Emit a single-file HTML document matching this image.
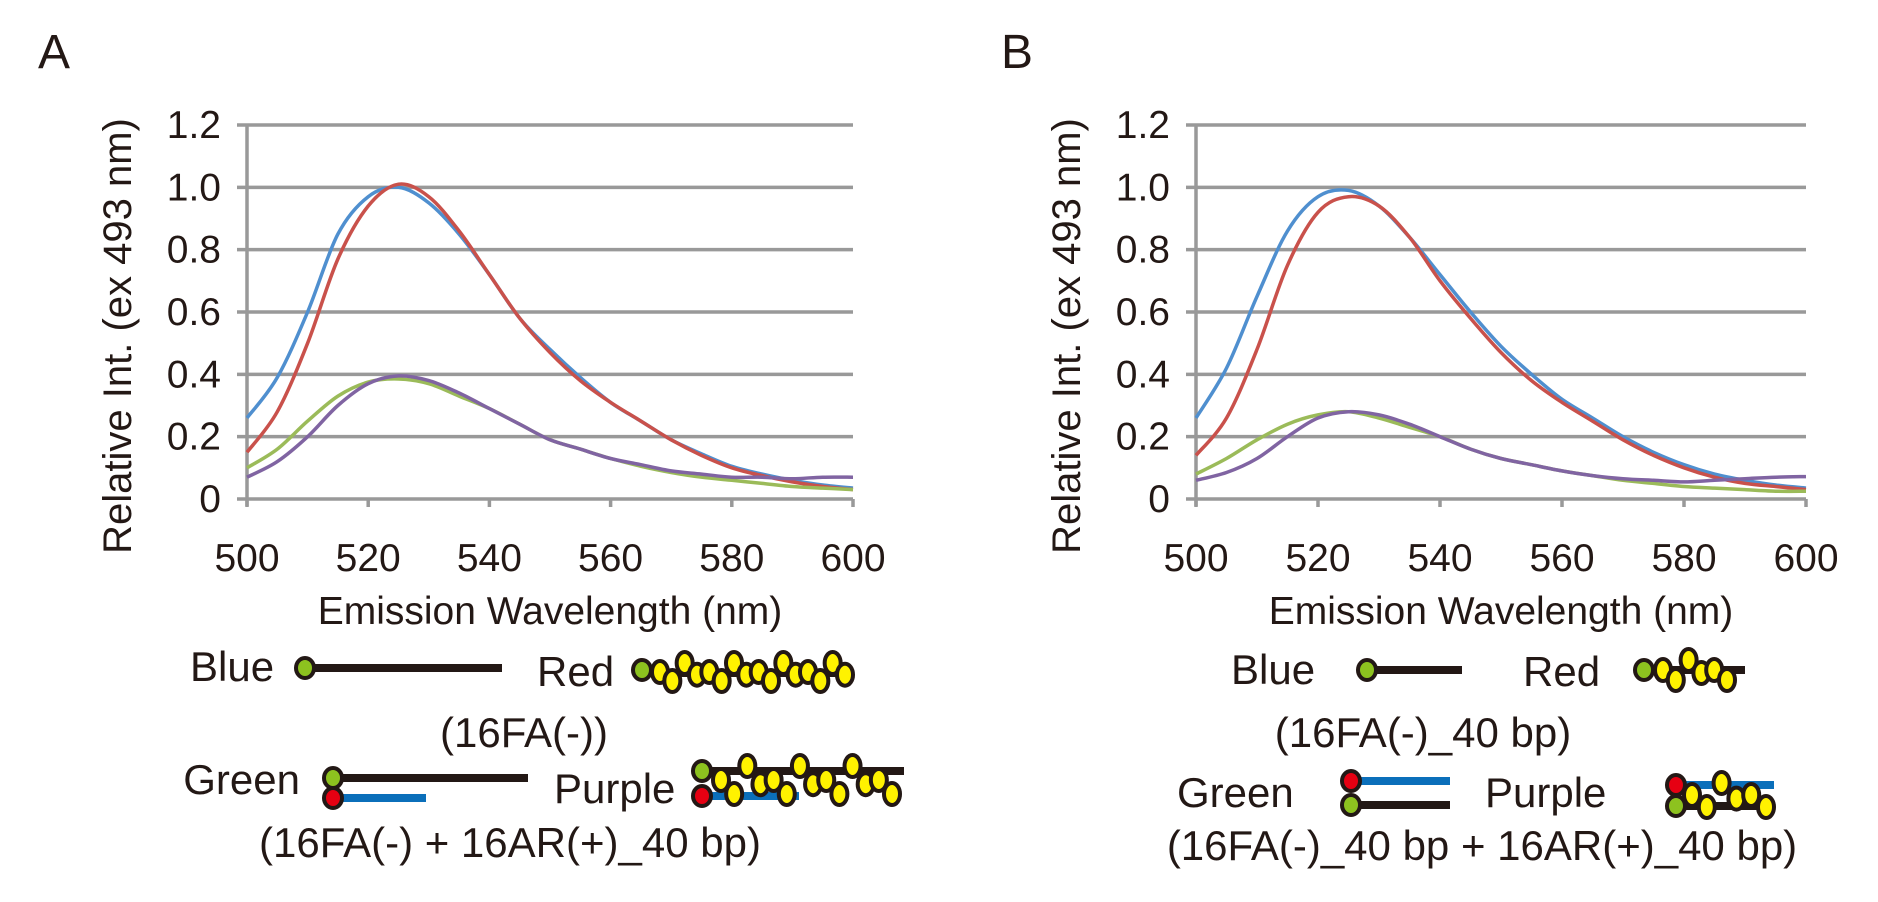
<!DOCTYPE html>
<html><head><meta charset="utf-8"><style>
html,body{margin:0;padding:0;background:#fff}
svg{display:block}
text{font-family:"Liberation Sans",Arial,sans-serif;fill:#231815}
</style></head><body>
<svg id="fig" width="1878" height="902" viewBox="0 0 1878 902" xmlns="http://www.w3.org/2000/svg"></svg>
<script>
const wavelengths=[500,505,510,515,520,525,530,535,540,545,550,555,560,565,570,575,580,585,590,595,600];
const yTicks=[0,0.2,0.4,0.6,0.8,1.0,1.2];
const yTickLabels=["0","0.2","0.4","0.6","0.8","1.0","1.2"];
const xTicks=[500,520,540,560,580,600];
const seriesNames=["blue","red","green","purple"];
const seriesColors=["#4f8fcf","#c9514b","#9bbb59","#8064a2"];
const aBlue=[.26,.39,.60,.85,.97,1.0,.95,.85,.72,.58,.48,.39,.31,.25,.19,.145,.105,.08,.06,.045,.035];
const aRed=[.15,.28,.50,.77,.94,1.01,.97,.86,.72,.58,.47,.38,.31,.25,.19,.14,.10,.075,.055,.04,.03];
const aGreen=[.10,.16,.25,.33,.375,.385,.37,.33,.29,.24,.19,.16,.13,.105,.085,.07,.06,.05,.04,.035,.03];
const aPurple=[.07,.12,.20,.30,.37,.395,.38,.34,.29,.24,.19,.16,.13,.11,.09,.08,.07,.07,.065,.07,.07];
const bBlue=[.26,.42,.65,.86,.97,.99,.94,.84,.72,.60,.49,.40,.32,.26,.20,.15,.11,.08,.06,.045,.035];
const bRed=[.14,.26,.48,.75,.92,.97,.94,.84,.70,.58,.47,.38,.31,.25,.19,.14,.10,.07,.05,.04,.03];
const bGreen=[.08,.13,.19,.24,.27,.28,.26,.23,.20,.16,.13,.11,.09,.075,.06,.05,.04,.035,.03,.025,.025];
const bPurple=[.06,.085,.13,.20,.26,.28,.27,.24,.20,.16,.13,.11,.09,.075,.065,.06,.055,.06,.065,.07,.072];

const NS="http://www.w3.org/2000/svg";
const svg=document.getElementById('fig');
function mk(tag,attrs,parent,txt){const e=document.createElementNS(NS,tag);for(const k in attrs)e.setAttribute(k,attrs[k]);if(txt!==undefined)e.textContent=txt;(parent||svg).appendChild(e);return e;}

function smooth(pts){let d="M"+pts[0][0]+","+pts[0][1];for(let i=0;i<pts.length-1;i++){const p0=pts[Math.max(0,i-1)],p1=pts[i],p2=pts[i+1],p3=pts[Math.min(pts.length-1,i+2)];const c1x=p1[0]+(p2[0]-p0[0])/6,c1y=p1[1]+(p2[1]-p0[1])/6,c2x=p2[0]-(p3[0]-p1[0])/6,c2y=p2[1]-(p3[1]-p1[1])/6;d+=" C"+c1x.toFixed(1)+","+c1y.toFixed(1)+" "+c2x.toFixed(1)+","+c2y.toFixed(1)+" "+p2[0].toFixed(1)+","+p2[1].toFixed(1);}return d;}

function panel(id,x0,x1,letter,lx,series){
  const y0=499,y12=125;
  const sx=v=>x0+(v-500)/100*(x1-x0);
  const sy=v=>y0-(v/1.2)*(y0-y12);
  const g=mk('g',{});
  
  
  const L=mk('text',{x:lx,y:68,'font-size':48},g,letter);
  
  
  yTicks.forEach((t,i)=>{
    const gl=mk('line',{x1:x0-10,x2:x1,y1:sy(t),y2:sy(t),stroke:'#999',"stroke-width":3.5},g);
    
    
    const tl=mk('text',{x:x0-26,y:sy(t)+13,'font-size':39,'text-anchor':'end'},g,yTickLabels[i]);
    
    
  });
  const ax=mk('line',{x1:x0,x2:x0,y1:y12,y2:y0+7,stroke:'#999',"stroke-width":3.5},g);
  
  
  xTicks.forEach(t=>{
    const tk=mk('line',{x1:sx(t),x2:sx(t),y1:y0,y2:y0+8,stroke:'#999',"stroke-width":3.5},g);
    
    
    const tl=mk('text',{x:sx(t),y:571,'font-size':39,'text-anchor':'middle'},g,String(t));
    
    
  });
  const xt=mk('text',{x:(x0+x1)/2,y:624,'font-size':39,'text-anchor':'middle'},g,'Emission Wavelength (nm)');
  
  
  const yt=mk('text',{x:0,y:0,'font-size':40,'text-anchor':'middle',transform:`translate(${x0-116},336) rotate(-90)`},g,'Relative Int. (ex 493 nm)');
  
  
  series.forEach((s,i)=>{
    const pts=wavelengths.map((w,j)=>[sx(w),sy(s[j])]);
    const p=mk('path',{d:smooth(pts),fill:'none',stroke:seriesColors[i],"stroke-width":3.5},g);
    
    
  });
}
panel('panel-a',247,853,'A',38,[aBlue,aRed,aGreen,aPurple]);
panel('panel-b',1196,1806,'B',1001,[bBlue,bRed,bGreen,bPurple]);

function txt(name,x,y,s,anchor){const t=mk('text',{x:x,y:y,'font-size':42,'text-anchor':anchor||'start'},svg,s);return t;}
function dot(x,y,c){mk('ellipse',{cx:x,cy:y,rx:9,ry:10,fill:c,stroke:'#231815',"stroke-width":4});}
function strand(x1,x2,y,c){mk('line',{x1:x1,x2:x2,y1:y,y2:y,stroke:c,"stroke-width":8});}
function beads(x1,x2,yc,n,amp){const g=mk('g',{});for(let i=0;i<n;i++){const x=x1+(x2-x1)*i/(n-1);const ph=[0,1,-1,0.3][i%4];mk('ellipse',{cx:x,cy:yc+ph*amp,rx:8,ry:11,fill:'#fff200',stroke:'#231815',"stroke-width":4},g);}return g;}

// Legend A
txt('legend-a-blue-label',190,681,'Blue');
strand(305,502,668,'#231815');dot(305,668,'#8dc21f');
txt('legend-a-red-label',537,686,'Red');
strand(642,850,673,'#231815');dot(642,670,'#8dc21f');
beads(660,845,672,16,9);
txt('legend-a-caption-1',524,747,'(16FA(-))','middle');
txt('legend-a-green-label',300,794,'Green','end');
strand(333,528,778,'#231815');strand(333,426,798,'#0b6fba');
dot(333,778,'#8dc21f');dot(333,798,'#e60012');
txt('legend-a-purple-label',554,803,'Purple');
strand(702,904,771,'#231815');strand(702,799,796,'#0b6fba');
dot(702,771,'#8dc21f');dot(702,796,'#e60012');
beads(721,892,780,14,14);
txt('legend-a-caption-2',510,857,'(16FA(-) + 16AR(+)_40 bp)','middle');

// Legend B
txt('legend-b-blue-label',1231,684,'Blue');
strand(1367,1462,670,'#231815');dot(1367,670,'#8dc21f');
txt('legend-b-red-label',1523,686,'Red');
strand(1644,1745,670,'#231815');dot(1644,670,'#8dc21f');
beads(1663,1727,670,6,10);
txt('legend-b-caption-1',1423,747,'(16FA(-)_40 bp)','middle');
txt('legend-b-green-label',1177,807,'Green');
strand(1351,1450,781,'#0b6fba');strand(1351,1450,805,'#231815');
dot(1351,781,'#e60012');dot(1351,805,'#8dc21f');
txt('legend-b-purple-label',1485,807,'Purple');
strand(1676,1774,785,'#0b6fba');strand(1676,1770,806,'#231815');
dot(1676,785,'#e60012');dot(1676,806,'#8dc21f');
beads(1692,1766,795,6,12);
txt('legend-b-caption-2',1482,860,'(16FA(-)_40 bp + 16AR(+)_40 bp)','middle');
</script>
</body></html>
